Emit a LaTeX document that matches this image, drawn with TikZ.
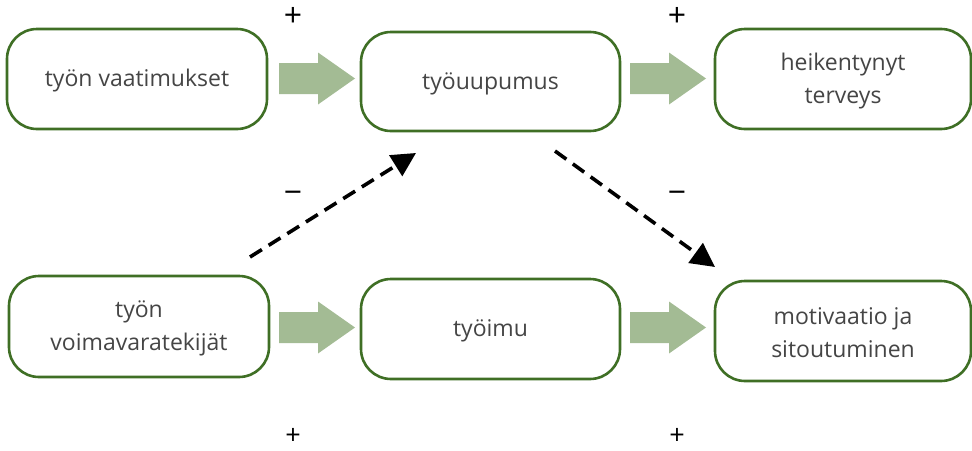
\documentclass[tikz,border=0pt]{standalone}
\usepackage{fontspec}
\setmainfont{Open Sans}
\usetikzlibrary{arrows.meta,shapes.arrows}
\definecolor{boxgreen}{HTML}{3F6F25}
\definecolor{arrgreen}{HTML}{A3BB94}
\definecolor{txt}{HTML}{454545}
\tikzset{
  bx/.style={draw=boxgreen, line width=2.6pt, rounded corners=30pt, fill=white},
  bxtext/.style={text=txt, align=center, font=\fontsize{23}{33}\selectfont},
  sgn/.style={text=black, inner sep=0pt, font=\fontsize{32}{36}\selectfont},
  sgnlow/.style={sgn, font=\fontsize{27}{30}\selectfont},
  dash arrow/.style={line width=3.6pt, dash pattern=on 14pt off 8pt, -{Triangle[length=24pt,width=24pt]}},
}
\begin{document}
\begin{tikzpicture}[x=1pt,y=-1pt]
\useasboundingbox (0,0) rectangle (972,450);
\newcommand{\mkbox}[6]{\path[bx] (#2,#3) rectangle (#4,#5); \node[bxtext] (#1) at ({(#2+#4)/2},{(#3+#5)/2+2}) {#6};}
\mkbox{a}{7}{29}{267}{129}{työn vaatimukset}
\mkbox{b}{361}{32}{620}{131}{työuupumus}
\mkbox{c}{715}{29}{971}{129}{heikentynyt\\terveys}
\mkbox{d}{9}{276}{269}{377}{työn\\voimavaratekijät}
\mkbox{e}{361}{279}{620}{379}{työimu}
\mkbox{f}{715}{281}{971}{381}{motivaatio ja\\sitoutuminen}
\newcommand{\blk}[2]{\fill[arrgreen] (#1,#2-15.5) -- (#1+39,#2-15.5) -- (#1+39,#2-26) -- (#1+76,#2) -- (#1+39,#2+26) -- (#1+39,#2+15.5) -- (#1,#2+15.5) -- cycle;}
\blk{279}{78.5}
\blk{630}{78.5}
\blk{279}{327.5}
\blk{630}{327.5}
\coordinate (s1) at (250,257);
\coordinate (t1) at (416,153);
\coordinate (s2) at (555,151);
\coordinate (t2) at (715,267);
\draw[dash arrow] (s1) -- (t1);
\draw[dash arrow] (s2) -- (t2);
\node[sgn] (p1) at (293,17) {+};
\node[sgn] (p2) at (677,17) {+};
\node[sgn] (m1) at (293,197) {−};
\node[sgn] (m2) at (677,197) {−};
\node[sgnlow] (p3) at (293,436) {+};
\node[sgnlow] (p4) at (677,436) {+};
\end{tikzpicture}
\end{document}
